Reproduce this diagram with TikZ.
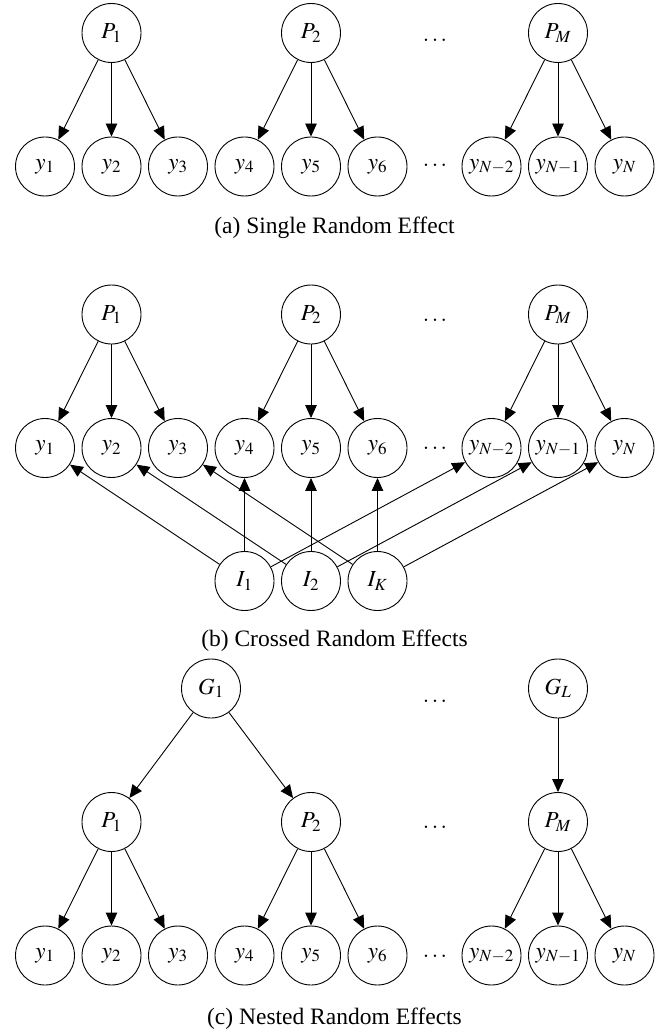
\documentclass[tikz,border=0pt]{standalone}
\usepackage{mathptmx}
\usepackage{fontspec}
\setmainfont{Liberation Serif}
\usepackage{tikz}
\usetikzlibrary{arrows.meta}

\begin{document}
\begin{tikzpicture}[x=1pt, y=-1pt,
  font=\fontsize{23}{27}\selectfont,
  var/.style={draw, circle, line width=0.9pt, minimum size=59pt, inner sep=0pt},
  link/.style={line width=0.9pt, -{Triangle[length=13pt, width=11.5pt]}},
  gap/.style={inner sep=0pt},
  subcap/.style={inner sep=0pt, font=\fontsize{23.5}{28}\selectfont}]
\useasboundingbox (0,0) rectangle (670,1032);

\node [var] (a-P1) at (111.5,33) {$P_1$};
\node [var] (a-P2) at (311,33) {$P_2$};
\node [var] (a-PM) at (558,33) {$P_M$};
\node [gap] (a-dP) at (435,40) {$\ldots$};
\foreach \i/\x in {1/45,2/111.5,3/178,4/244.5,5/311,6/377.5}
  \node [var] (a-y\i) at (\x,166.5) {$y_{\i}$};
\node [gap] (a-dy) at (435,165) {$\ldots$};
\node [var] (a-yN2) at (491.5,166.5) {$y_{N-2}$};
\node [var] (a-yN1) at (558,166.5) {$y_{N-1}$};
\node [var] (a-yN) at (624.5,166.5) {$y_N$};
\foreach \i in {1,2,3}
  \draw [link] (a-P1) -- (a-y\i);
\foreach \i in {4,5,6}
  \draw [link] (a-P2) -- (a-y\i);
\foreach \i in {N2,N1,N}
  \draw [link] (a-PM) -- (a-y\i);
\node [subcap] (a-cap) at (334.5,228) {(a) Single Random Effect};

\node [var] (b-P1) at (111.5,314.5) {$P_1$};
\node [var] (b-P2) at (311,314.5) {$P_2$};
\node [var] (b-PM) at (558,314.5) {$P_M$};
\node [gap] (b-dP) at (435,320) {$\ldots$};
\foreach \i/\x in {1/45,2/111.5,3/178,4/244.5,5/311,6/377.5}
  \node [var] (b-y\i) at (\x,448) {$y_{\i}$};
\node [gap] (b-dy) at (435,448) {$\ldots$};
\node [var] (b-yN2) at (491.5,448) {$y_{N-2}$};
\node [var] (b-yN1) at (558,448) {$y_{N-1}$};
\node [var] (b-yN) at (624.5,448) {$y_N$};
\node [var] (b-I1) at (244.5,581) {$I_1$};
\node [var] (b-I2) at (311,581) {$I_2$};
\node [var] (b-IK) at (377.5,581) {$I_K$};
\foreach \i in {1,2,3}
  \draw [link] (b-P1) -- (b-y\i);
\foreach \i in {4,5,6}
  \draw [link] (b-P2) -- (b-y\i);
\foreach \i in {N2,N1,N}
  \draw [link] (b-PM) -- (b-y\i);
\draw [link] (b-I1) -- (b-y1);
\draw [link] (b-I1) -- (b-y4);
\draw [link] (b-I1) -- (b-yN2);
\draw [link] (b-I2) -- (b-y2);
\draw [link] (b-I2) -- (b-y5);
\draw [link] (b-I2) -- (b-yN1);
\draw [link] (b-IK) -- (b-y3);
\draw [link] (b-IK) -- (b-y6);
\draw [link] (b-IK) -- (b-yN);
\node [subcap] (b-cap) at (334.5,641) {(b) Crossed Random Effects};

\node [var] (c-G1) at (211,688.5) {$G_1$};
\node [var] (c-GL) at (558,688.5) {$G_L$};
\node [gap] (c-dG) at (435,701.5) {$\ldots$};
\node [var] (c-P1) at (111.5,822) {$P_1$};
\node [var] (c-P2) at (311,822) {$P_2$};
\node [var] (c-PM) at (558,822) {$P_M$};
\node [gap] (c-dP) at (435,827.5) {$\ldots$};
\foreach \i/\x in {1/45,2/111.5,3/178,4/244.5,5/311,6/377.5}
  \node [var] (c-y\i) at (\x,955.5) {$y_{\i}$};
\node [gap] (c-dy) at (435,956) {$\ldots$};
\node [var] (c-yN2) at (491.5,955.5) {$y_{N-2}$};
\node [var] (c-yN1) at (558,955.5) {$y_{N-1}$};
\node [var] (c-yN) at (624.5,955.5) {$y_N$};
\draw [link] (c-G1) -- (c-P1);
\draw [link] (c-G1) -- (c-P2);
\draw [link] (c-GL) -- (c-PM);
\foreach \i in {1,2,3}
  \draw [link] (c-P1) -- (c-y\i);
\foreach \i in {4,5,6}
  \draw [link] (c-P2) -- (c-y\i);
\foreach \i in {N2,N1,N}
  \draw [link] (c-PM) -- (c-y\i);
\node [subcap] (c-cap) at (334.5,1019) {(c) Nested Random Effects};

\end{tikzpicture}
\end{document}
